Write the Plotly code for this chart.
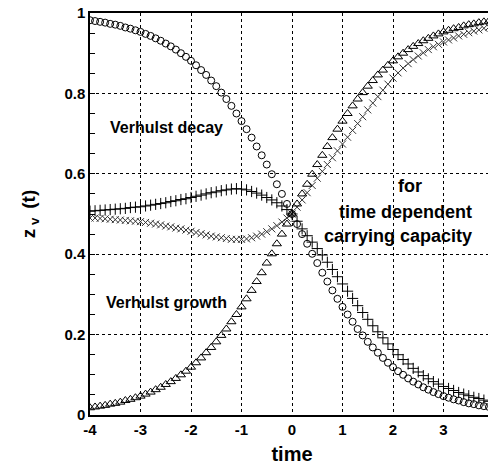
import plotly.graph_objects as go

# time grid (step 0.1 from -4 to 4)
time = [round(-4 + 0.1 * i, 1) for i in range(81)]

# Verhulst decay (circles)
decay = [0.982, 0.980, 0.978, 0.976, 0.973, 0.971, 0.968, 0.964, 0.961, 0.957,
         0.953, 0.948, 0.943, 0.937, 0.931, 0.924, 0.917, 0.909, 0.900, 0.891,
         0.881, 0.870, 0.858, 0.846, 0.832, 0.818, 0.802, 0.786, 0.769, 0.750,
         0.731, 0.711, 0.690, 0.668, 0.646, 0.623, 0.599, 0.574, 0.550, 0.525,
         0.500,
         0.475, 0.450, 0.426, 0.401, 0.378, 0.354, 0.332, 0.310, 0.289, 0.269,
         0.250, 0.232, 0.214, 0.198, 0.182, 0.168, 0.155, 0.142, 0.130, 0.119,
         0.109, 0.100, 0.091, 0.083, 0.076, 0.069, 0.063, 0.057, 0.052, 0.047,
         0.043, 0.039, 0.036, 0.032, 0.029, 0.027, 0.024, 0.022, 0.020, 0.018]

# Verhulst growth (triangles)
growth = [0.018, 0.020, 0.022, 0.024, 0.027, 0.029, 0.032, 0.036, 0.039, 0.043,
          0.047, 0.052, 0.057, 0.063, 0.069, 0.076, 0.083, 0.091, 0.100, 0.109,
          0.119, 0.130, 0.142, 0.155, 0.168, 0.182, 0.198, 0.214, 0.232, 0.250,
          0.269, 0.289, 0.310, 0.332, 0.354, 0.378, 0.401, 0.426, 0.450, 0.475,
          0.500,
          0.525, 0.550, 0.574, 0.599, 0.623, 0.646, 0.668, 0.690, 0.711, 0.731,
          0.750, 0.769, 0.786, 0.802, 0.818, 0.832, 0.846, 0.858, 0.870, 0.881,
          0.891, 0.900, 0.909, 0.917, 0.924, 0.931, 0.937, 0.943, 0.948, 0.953,
          0.957, 0.961, 0.964, 0.968, 0.971, 0.973, 0.976, 0.978, 0.980, 0.982]

# decay with time dependent carrying capacity (plus markers)
decay_tdc = [0.507, 0.508, 0.509, 0.510, 0.511, 0.512, 0.513, 0.514, 0.516, 0.517,
             0.518, 0.520, 0.522, 0.524, 0.526, 0.528, 0.531, 0.533, 0.536, 0.538,
             0.541, 0.544, 0.547, 0.550, 0.553, 0.555, 0.558, 0.560, 0.562, 0.563,
             0.562, 0.560, 0.556, 0.552, 0.547, 0.541, 0.535, 0.528, 0.520, 0.511,
             0.500,
             0.482, 0.463, 0.446, 0.430, 0.414, 0.398, 0.380, 0.362, 0.344, 0.326,
             0.308, 0.290, 0.272, 0.255, 0.238, 0.222, 0.207, 0.192, 0.177, 0.163,
             0.150, 0.138, 0.127, 0.116, 0.107, 0.098, 0.090, 0.083, 0.077, 0.071,
             0.066, 0.061, 0.056, 0.052, 0.048, 0.044, 0.041, 0.037, 0.034, 0.031]

# growth with time dependent carrying capacity (x markers)
growth_tdc = [0.490, 0.490, 0.489, 0.488, 0.487, 0.486, 0.485, 0.484, 0.483, 0.482,
              0.481, 0.479, 0.477, 0.475, 0.473, 0.470, 0.468, 0.465, 0.463, 0.460,
              0.457, 0.454, 0.451, 0.448, 0.445, 0.443, 0.441, 0.439, 0.437, 0.437,
              0.437, 0.438, 0.441, 0.445, 0.450, 0.456, 0.463, 0.471, 0.480, 0.490,
              0.500,
              0.517, 0.535, 0.553, 0.571, 0.589, 0.606, 0.623, 0.640, 0.657, 0.674,
              0.691, 0.708, 0.725, 0.742, 0.759, 0.776, 0.792, 0.808, 0.823, 0.838,
              0.851, 0.863, 0.874, 0.884, 0.893, 0.901, 0.909, 0.916, 0.922, 0.928,
              0.933, 0.938, 0.943, 0.947, 0.951, 0.955, 0.958, 0.962, 0.965, 0.968]

x_ticks = [-4, -3, -2, -1, 0, 1, 2, 3, 4]
y_ticks = [0, 0.2, 0.4, 0.6, 0.8, 1]
y_tick_labels = ["0", "0.2", "0.4", "0.6", "0.8", "1"]

FONT = "Liberation Sans, Arial, Helvetica, sans-serif"

fig = go.Figure()
fig.add_trace(go.Scatter(x=time, y=growth_tdc, mode="markers",
                         marker=dict(symbol="x-thin-open", size=7, color="#333",
                                     line=dict(width=1, color="#333"))))
fig.add_trace(go.Scatter(x=time, y=decay_tdc, mode="markers",
                         marker=dict(symbol="cross-thin-open", size=8, color="black",
                                     line=dict(width=1, color="black"))))
fig.add_trace(go.Scatter(x=time, y=decay, mode="markers",
                         marker=dict(symbol="circle-open", size=7, color="black",
                                     line=dict(width=1, color="black"))))
fig.add_trace(go.Scatter(x=time, y=growth, mode="markers",
                         marker=dict(symbol="triangle-up-open", size=8, color="black",
                                     line=dict(width=1, color="black"))))

ann_font = dict(family=FONT, size=16, color="black")
big_font = dict(family=FONT, size=18, color="black")
annotations = [
    dict(x=-2.49, y=0.714, text="<b>Verhulst decay</b>", font=ann_font),
    dict(x=-2.49, y=0.281, text="<b>Verhulst growth</b>", font=ann_font),
    dict(x=2.34, y=0.570, text="<b>for</b>", font=big_font),
    dict(x=2.24, y=0.505, text="<b>time dependent</b>", font=big_font),
    dict(x=2.10, y=0.445, text="<b>carrying capacity</b>", font=big_font),
]
for a in annotations:
    a.update(xref="x", yref="y", showarrow=False, xanchor="center", yanchor="middle")

fig.update_layout(
    width=496, height=470,
    margin=dict(l=82, r=10, t=5, b=63),
    paper_bgcolor="white", plot_bgcolor="white",
    showlegend=False,
    font=dict(family=FONT, color="black"),
    annotations=annotations,
)
fig.update_xaxes(
    range=[-4, 4], tickvals=x_ticks, ticktext=[str(v) for v in x_ticks],
    showgrid=True, gridcolor="black", griddash="dot", gridwidth=1,
    showline=True, linecolor="black", linewidth=1.5, mirror=True,
    ticks="", zeroline=False, automargin=False, ticklabeloverflow="allow",
    tickfont=dict(family=FONT, size=15, weight="bold"),
    title=dict(text="<b>time</b>", font=dict(family=FONT, size=20), standoff=10),
)
fig.update_yaxes(
    range=[0, 1], tickvals=y_ticks, ticktext=y_tick_labels,
    showgrid=True, gridcolor="black", griddash="dot", gridwidth=1,
    showline=True, linecolor="black", linewidth=1.5, mirror="ticks",
    ticks="inside", ticklen=5, tickcolor="black",
    minor=dict(dtick=0.05, ticks="inside", ticklen=5, tickcolor="black", showgrid=False),
    zeroline=False, automargin=False, ticklabeloverflow="allow",
    tickfont=dict(family=FONT, size=15, weight="bold"),
    title=dict(text="<b>z<sub> v </sub> (t)</b>", font=dict(family=FONT, size=19), standoff=24),
)

fig.write_html("out.html")
